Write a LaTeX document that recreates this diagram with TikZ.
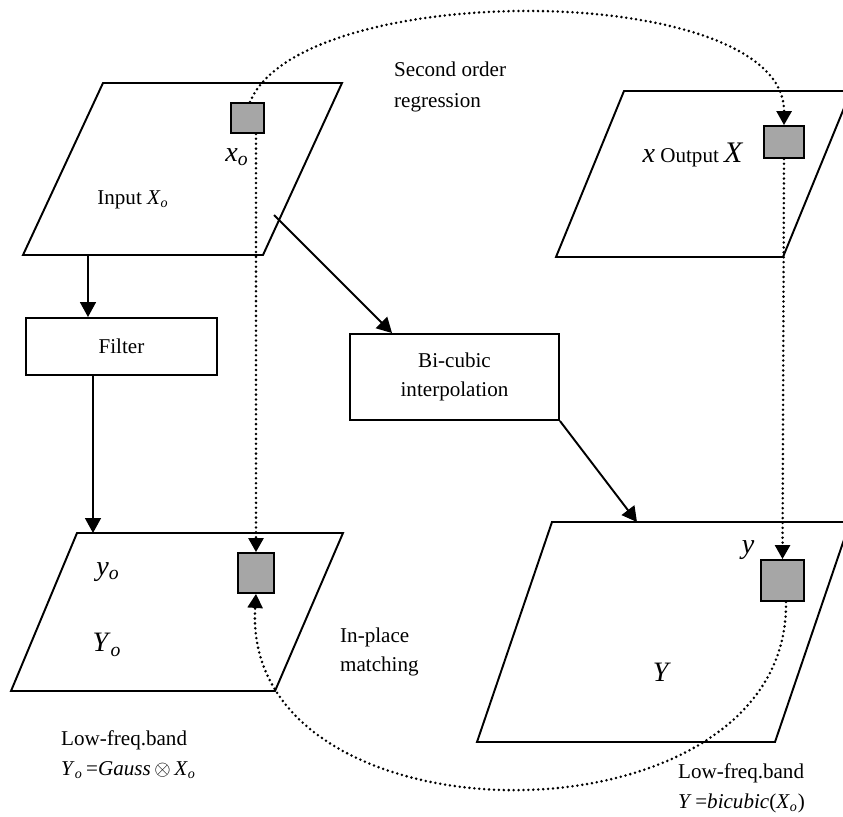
\documentclass[tikz,border=0pt]{standalone}
\usepackage{fontspec}
\setmainfont{Liberation Serif}
\usepackage{amsmath}
\usepackage{amssymb}
\usepackage{tikz}
\usetikzlibrary{arrows.meta}

\newcommand{\imvar}[2]{\textit{#1}\textsubscript{\textit{#2}}}
\newcommand{\bigvar}{\fontsize{16}{18}\selectfont}

\tikzset{
    plane/.style={draw, line width=1.1pt},
    pixel/.style={draw, line width=1pt, fill=black!35, inner sep=0pt},
    procbox/.style={draw, line width=1.1pt, align=center, inner sep=0pt},
    flow/.style={-{Triangle[length=8.5pt,width=9pt]}, line width=1.1pt},
    match/.style={-{Triangle[length=8pt,width=8.5pt]}, line width=1.6pt, line cap=round, dash pattern=on 0pt off 2.8pt},
}

\begin{document}
\begin{tikzpicture}[x=0.02cm, y=-0.02cm, font=\fontsize{12}{14}\selectfont]
    \useasboundingbox (0,0) rectangle (843,816);

    \draw[plane] (103,83) -- (342,83) -- (263,255) -- (23,255) -- cycle;
    \draw[plane] (624,91) -- (851,91) -- (783,257) -- (556,257) -- cycle;
    \draw[plane] (77,533) -- (343,533) -- (275,691) -- (11,691) -- cycle;
    \draw[plane] (552,522) -- (850,522) -- (775,742) -- (477,742) -- cycle;

    \node[pixel, minimum width=0.66cm, minimum height=0.6cm] (xin) at (247.5,118) {};
    \node[pixel, minimum width=0.8cm, minimum height=0.64cm] (xout) at (784,142) {};
    \node[pixel, minimum width=0.72cm, minimum height=0.8cm] (yosq) at (256,573) {};
    \node[pixel, minimum width=0.86cm, minimum height=0.82cm] (ysq) at (782.5,580.5) {};

    \node[procbox, minimum width=3.82cm, minimum height=1.14cm] (filter) at (121.5,346.5) {Filter};
    \node[procbox, minimum width=4.18cm, minimum height=1.72cm, font=\fontsize{12}{16.5}\selectfont] (bicubic) at (454.5,377) {Bi-cubic\\interpolation};

    \coordinate (inbase) at (88,255);
    \coordinate (inedge) at (274,215);
    \coordinate (yotop) at (93,533);
    \coordinate (ytop) at (637,522);

    \draw[flow] (inbase) -- (inbase |- filter.north);
    \draw[flow] (filter.south -| yotop) -- (yotop);
    \draw[flow] (inedge) -- ([xshift=0.86cm]bicubic.north west);
    \draw[flow] (bicubic.south east) -- (ytop);

    \draw[match] ([xshift=0.05cm]xin.north) .. controls (300,-22) and (785,-20) .. (xout.north);
    \draw[match] (xin.south -| yosq.north) -- (yosq.north);
    \draw[match] (xout.south) -- (ysq.north);
    \draw[match] ([xshift=0.07cm]ysq.south) .. controls (790,852) and (240,852) .. (yosq.south);

    \node (inlbl) at (133,200) {Input \imvar{X}{o}};
    \node[font=\bigvar] (xolbl) at (237,157) {\imvar{x}{o}};
    \node (outlbl) at (693,155) {{\bigvar\textit{x}} Output {\fontsize{17}{18}\selectfont\textit{X}}};
    \node[font=\bigvar] (yolbl) at (108,572) {\imvar{y}{o}};
    \node[font=\bigvar] (Yolbl) at (107,645) {\imvar{Y}{o}};
    \node[font=\bigvar] (ylbl) at (748,550) {\textit{y}};
    \node[font=\bigvar] (Ylbl) at (662,672) {\textit{Y}};

    \node[anchor=west, align=left, font=\fontsize{12}{17.5}\selectfont] (regr) at (388,87) {Second order\\regression};
    \node[anchor=west, align=left, font=\fontsize{12}{17}\selectfont] (inplace) at (334,652) {In-place\\matching};
    \node[anchor=west, align=left, font=\fontsize{12}{17}\selectfont] (bandl) at (55,755) {Low-freq.band\\\imvar{Y}{o}\,=\textit{Gauss}\,{\large$\otimes$}\,\imvar{X}{o}};
    \node[anchor=west, align=left, font=\fontsize{12}{17}\selectfont] (bandr) at (672,788) {Low-freq.band\\\textit{Y}\,=\textit{bicubic}(\imvar{X}{o})};
\end{tikzpicture}
\end{document}
